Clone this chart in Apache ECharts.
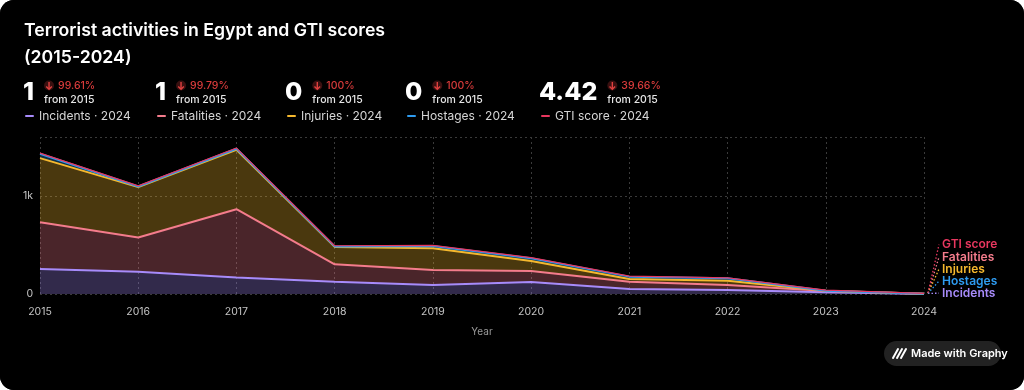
<!DOCTYPE html>
<html><head><meta charset="utf-8">
<script src="https://cdn.jsdelivr.net/npm/echarts@6/dist/echarts.min.js"></script>
<style>
html,body{margin:0;padding:0;background:#fff;}
#c{width:1024px;height:390px;background:#000;border-radius:14px;overflow:hidden;}
</style></head><body><div id="c"></div>
<script>
// ---------- DATA ----------
const titleLines = ['Terrorist activities in Egypt and GTI scores', '(2015-2024)'];
const years = ['2015','2016','2017','2018','2019','2020','2021','2022','2023','2024'];
const seriesNames = ['Incidents','Fatalities','Injuries','Hostages','GTI score'];
const incidents  = [256, 228, 167, 126, 92, 122, 51, 41, 17, 1];
const fatalities = [476, 347, 697, 177, 153, 113, 75, 51, 14, 1];
const injuries   = [653, 514, 605, 177, 221, 102, 27, 44, 2, 0];
const hostages   = [44, 6, 11, 5, 24, 27, 24, 24, 1, 0];
const gtiScore   = [7.325, 7.17, 7.35, 6.8, 6.4, 6.0, 5.65, 5.3, 4.9, 4.42];
const yTickValues = [0, 1000];
const yAxisMax = 1600;
const xAxisName = 'Year';
const badgeText = 'Made with Graphy';

// ---------- STYLE ----------
const FONT = 'Inter, "Noto Sans", sans-serif';
const colors = ['#a78bfa', '#f47c8c', '#f5b82e', '#2e9bf0', '#e8375f'];
const lineWidths = [2, 2, 2, 2, 1.2];
const labelRank = [0, 3, 2, 1, 4];
const groupX = [23, 155, 285, 405, 539];
const dataSets = [incidents, fatalities, injuries, hostages, gtiScore];

const ctx = document.createElement('canvas').getContext('2d');
function textW(t, font){ ctx.font = font; return ctx.measureText(t).width; }

function fmtVal(v){ return Number.isInteger(v) ? String(v) : v.toFixed(2); }
function pct(first, last){
  const p = (1 - last / first) * 100;
  return (Math.round(p * 100) / 100).toFixed(2).replace(/\.?0+$/, '') + '%';
}

const graphic = [];
titleLines.forEach((t, i) => graphic.push({
  type:'text', left:24, top: 22 + i*27,
  style:{text:t, fill:'#fff', font:'600 17.7px ' + FONT}
}));

const bigFont = '800 25px ' + FONT;
dataSets.forEach((d, i) => {
  const x = groupX[i];
  const last = d[d.length-1];
  const numStr = fmtVal(last);
  graphic.push({type:'text', x:x, y:92, style:{text:numStr, fill:'#fff', font:bigFont, textVerticalAlign:'middle', textAlign:'left'}});
  const sx = x + textW(numStr, bigFont) + 10;
  graphic.push({type:'circle', shape:{cx:sx+5, cy:85.5, r:5}, style:{fill:'#3a1010'}});
  graphic.push({type:'polyline', shape:{points:[[sx+5,82],[sx+5,89]]}, style:{stroke:'#e0403f', lineWidth:1.4, fill:null}});
  graphic.push({type:'polyline', shape:{points:[[sx+2.2,86.5],[sx+5,89.2],[sx+7.8,86.5]]}, style:{stroke:'#e0403f', lineWidth:1.4, fill:null}});
  graphic.push({type:'text', x:sx+14, y:85.5, style:{text:pct(d[0], last), fill:'#d93b3b', font:'500 10.5px ' + FONT, textVerticalAlign:'middle'}});
  graphic.push({type:'text', x:sx, y:99.5, style:{text:'from ' + years[0], fill:'#e6e6e6', font:'500 10.5px ' + FONT, textVerticalAlign:'middle'}});
  graphic.push({type:'rect', shape:{x:x+2, y:115, width:9, height:2, r:1}, style:{fill:colors[i]}});
  graphic.push({type:'text', x:x+16, y:116, style:{text:seriesNames[i] + ' · ' + years[years.length-1], fill:'#d6d6d6', font:'400 12px ' + FONT, textVerticalAlign:'middle'}});
});

graphic.push({type:'rect', shape:{x:884, y:341, width:117, height:25, r:12.5}, style:{fill:'#222'}});
[[893,358,898,349],[897,358,902,349],[901,358,906,349]].forEach(p => graphic.push({
  type:'polyline', shape:{points:[[p[0],p[1]],[p[2],p[3]]]}, style:{stroke:'#fff', lineWidth:2, lineCap:'round'}
}));
graphic.push({type:'text', x:911, y:353.5, style:{text:badgeText, fill:'#fff', font:'600 11px ' + FONT, textVerticalAlign:'middle'}});

const series = dataSets.map((d, i) => ({
  name: seriesNames[i], type:'line', stack:'total', data:d,
  symbol:'none', showSymbol:false, smooth:false,
  lineStyle:{width:lineWidths[i], color:colors[i]}, itemStyle:{color:colors[i]},
  areaStyle:{color:colors[i], opacity:0.3},
  emphasis:{disabled:true}
}));

// end labels with dotted leader lines, placed at each stacked series' last point
const lastIdx = years.length - 1;
const endData = dataSets.map((d, i) => {
  let cum = 0;
  for (let k = 0; k <= i; k++) cum += dataSets[k][lastIdx];
  return [lastIdx, cum, i];
});
series.push({
  type:'custom', name:'endLabels', data:endData, clip:false, z:10, silent:true,
  renderItem: function(params, api){
    const i = api.value(2);
    const p = api.coord([api.value(0), api.value(1)]);
    const ty = p[1] - 0.7 - labelRank[i] * 12;
    return {type:'group', children:[
      {type:'line', shape:{x1:p[0]+4, y1:p[1]-0.5, x2:p[0]+15, y2:ty}, style:{stroke:colors[i], lineWidth:1.3, lineDash:[1.5,2]}},
      {type:'text', x:p[0]+18, y:ty, style:{text:seriesNames[i], fill:colors[i], font:'600 12px ' + FONT, textVerticalAlign:'middle', textAlign:'left'}}
    ]};
  }
});

const chart = echarts.init(document.getElementById('c'), null, {renderer:'canvas'});
chart.setOption({
  backgroundColor:'#000',
  animation:false,
  grid:{left:40, right:100, top:137, bottom:96, containLabel:false},
  xAxis:{
    type:'category', data:years, boundaryGap:false,
    name:xAxisName, nameLocation:'middle', nameGap:33,
    nameTextStyle:{color:'#9a9a9a', fontFamily:FONT, fontSize:10},
    axisLine:{show:false}, axisTick:{show:false},
    axisLabel:{color:'#c4c4c4', fontFamily:FONT, fontSize:10.5, margin:12},
    splitLine:{show:true, lineStyle:{color:'#3a3a3a', type:[2,3], width:1}}
  },
  yAxis:{
    type:'value', min:yTickValues[0], max:yAxisMax, interval:yTickValues[1]-yTickValues[0],
    axisLine:{show:false}, axisTick:{show:false},
    axisLabel:{color:'#c4c4c4', fontFamily:FONT, fontSize:10.5, margin:7, showMaxLabel:false,
      formatter: v => v >= 1000 ? (v/1000) + 'k' : String(v)},
    splitLine:{show:true, lineStyle:{color:'#3a3a3a', type:[2,3], width:1}}
  },
  graphic: graphic,
  series: series
});
</script></body></html>
